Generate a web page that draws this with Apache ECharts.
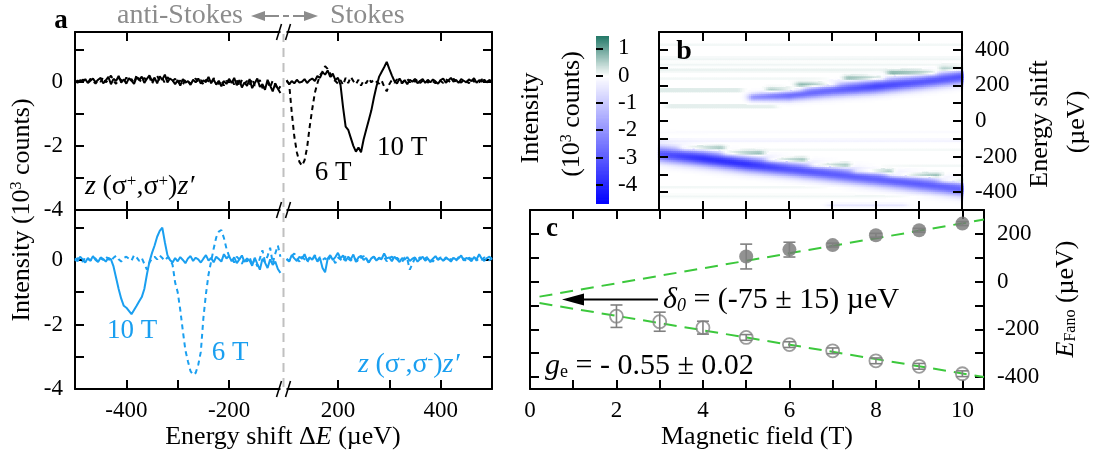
<!DOCTYPE html>
<html><head><meta charset="utf-8">
<script src="https://cdn.jsdelivr.net/npm/echarts@6/dist/echarts.min.js"></script>
<style>html,body{margin:0;padding:0;background:#fff}#c{width:1106px;height:459px}</style>
</head><body><div id="c"></div>
<script>
// ---------------- DATA ----------------
// Panel a: energy sampling (µeV), anti-Stokes side and Stokes side
const E_STEP = 5;
const energyLeft = []; for (let e = -500; e <= -100; e += E_STEP) energyLeft.push(e);
const energyRight = []; for (let e = 100; e <= 500; e += E_STEP) energyRight.push(e);
// intensities (10^3 counts)
// z(σ+,σ+)z'  10 T (solid black)
const sPlus10L = [0.02,-0.03,0.05,0.00,0.08,-0.04,0.03,0.10,-0.02,0.06, 0.12,-0.05,0.04,0.15,-0.08,0.09,0.02,0.18,-0.03,0.07, -0.06,0.11,0.03,-0.07,0.14,0.05,0.16,-0.04,0.09,0.20, 0.02,0.13,-0.05,0.17,0.06,0.22,-0.02,0.10,0.04,-0.08, 0.05,-0.12,0.08,-0.03,0.02,-0.10,0.06,-0.02,0.10,-0.06, 0.04,-0.01,0.15,-0.05,0.07,-0.09,0.03,-0.14,0.02,-0.07, 0.09,-0.04,0.12,-0.11,0.05,-0.18,-0.02,-0.13,0.08,-0.20, -0.05,0.10,-0.16,-0.08,-0.25,0.06,-0.12,-0.30,-0.05,-0.22,-0.35];
const sPlus10R = [0.05,-0.08,0.02,-0.05,0.06,-0.03,0.00,0.08,-0.04,0.05, 0.10,0.02,0.18,0.12,0.30,0.22,0.35,0.15,0.25,0.05, 0.12,-0.10,-0.80,-1.40,-1.50,-1.75,-2.00,-2.18,-2.05,-2.20, -1.80,-1.50,-1.20,-0.90,-0.50,-0.15,0.15,0.30,0.45,0.62, 0.40,0.20,0.02,-0.06,0.10,-0.03,0.05,-0.08,0.06,0.00, 0.09,-0.05,0.03,0.08,-0.04,0.06,-0.02,0.07,0.01,-0.06, 0.05,0.10,-0.03,0.04,0.12,0.00,0.06,-0.04,0.08,0.03, -0.02,0.07,0.02,0.11,-0.03,0.05,0.00,0.06,-0.02,0.04,0.01];
// z(σ+,σ+)z'  6 T (dashed black)
const sPlus6L = [-0.02,0.04,-0.05,0.07,0.01,-0.03,0.09,0.02,-0.06,0.05, 0.00,0.14,-0.02,0.06,0.19,0.03,-0.07,0.11,0.05,-0.02, 0.13,0.02,0.08,-0.04,0.21,0.07,-0.02,0.12,0.04,0.15, -0.06,0.10,0.18,0.03,0.11,-0.04,0.14,0.07,0.02,0.09, -0.05,0.04,-0.09,0.07,0.01,-0.06,0.03,0.10,-0.02,0.05, -0.08,0.06,0.02,-0.04,0.11,0.00,-0.07,0.05,-0.12,0.03, -0.02,0.07,-0.09,0.04,-0.15,0.06,-0.06,0.02,-0.10,0.09, -0.12,-0.03,0.05,-0.20,-0.09,-0.02,-0.18,0.04,-0.08,-0.26,-0.14];
const sPlus6R = [0.02,-0.06,-0.95,-1.70,-2.20,-2.50,-2.62,-2.45,-2.05,-1.40, -0.85,-0.35,-0.05,0.20,0.32,0.48,0.40,0.25,0.08,0.02, -0.06,0.05,-0.10,0.12,-0.04,0.15,0.02,-0.08,0.06,-0.12, 0.03,-0.05,0.10,-0.02,0.07,0.00,-0.06,0.04,-0.15,-0.30, -0.08,0.05,-0.03,0.07,0.01,-0.05,0.04,0.09,-0.02,0.06, 0.00,0.08,-0.04,0.03,0.07,-0.03,0.05,0.01,-0.05,0.06, 0.02,-0.04,0.07,0.03,-0.02,0.09,0.01,0.05,-0.03,0.06, 0.02,-0.05,0.08,0.00,0.04,-0.02,0.07,0.03,-0.01,0.05,0.02];
// z(σ-,σ-)z'  10 T (solid blue)
const sMinus10L = [0.05,-0.04,0.10,0.02,-0.08,0.06,-0.02,0.12,0.00,-0.06, 0.08,0.03,-0.05,0.07,0.02,-0.20,-0.55,-0.90,-1.20,-1.42, -1.48,-1.58,-1.68,-1.55,-1.42,-1.28,-1.15,-0.90,-0.45,-0.05, 0.22,0.45,0.72,0.90,1.00,0.55,0.15,0.00,-0.08,0.06, -0.04,0.09,0.00,-0.10,0.05,0.12,-0.03,0.07,0.02,-0.08, 0.04,0.15,-0.02,0.06,-0.07,0.10,0.03,-0.05,0.18,0.05, 0.12,-0.04,0.08,-0.10,0.02,0.14,-0.06,0.05,-0.02,-0.18, 0.07,-0.12,-0.30,0.04,-0.08,-0.25,0.02,-0.15,-0.05,-0.28,-0.40];
const sMinus10R = [0.02,-0.05,0.15,0.05,-0.03,0.10,0.04,0.18,-0.02,0.08, 0.01,0.12,-0.05,0.06,-0.25,-0.38,0.04,0.15,0.00,0.09, 0.22,0.05,0.14,-0.03,0.10,0.02,0.17,-0.06,0.08,0.13, 0.00,0.06,-0.08,0.05,0.11,-0.02,0.07,0.03,0.20,0.05, 0.08,-0.04,0.10,0.02,-0.06,0.06,0.01,0.09,-0.03,0.04, 0.08,-0.05,0.03,0.10,-0.02,0.05,-0.07,0.04,0.12,0.00, 0.06,-0.03,0.08,0.02,-0.05,0.07,0.01,0.05,0.14,-0.02, 0.06,0.03,-0.04,0.09,0.02,0.18,0.04,-0.03,0.06,0.10,0.03];
// z(σ-,σ-)z'  6 T (dashed blue)
const sMinus6L = [-0.03,0.06,0.01,-0.05,0.08,0.03,-0.02,0.09,0.04,-0.06, 0.05,0.00,0.11,0.03,-0.04,0.07,0.13,0.02,-0.05,0.06, 0.10,0.04,-0.02,0.15,0.08,-0.03,0.06,-0.12,-0.30,-0.08, 0.05,0.10,0.02,0.14,0.06,-0.02,0.08,0.03,-0.15,-0.70, -1.00,-1.55,-2.20,-2.80,-3.15,-3.45,-3.56,-3.50,-3.25,-2.85, -1.80,-1.05,-0.45,-0.05,0.35,0.70,0.88,0.93,0.68,0.35, 0.12,0.05,-0.08,0.10,0.02,-0.12,0.06,-0.05,0.09,-0.15, 0.03,-0.20,0.05,0.30,-0.06,0.12,0.38,-0.10,0.20,0.45,0.10];
const sMinus6R = [0.04,-0.03,0.12,0.20,0.06,-0.05,0.10,0.02,-0.08,0.07, 0.03,0.15,-0.02,0.09,0.00,0.06,-0.04,0.11,0.05,-0.10, 0.08,0.02,-0.06,0.13,0.04,-0.02,0.09,0.01,-0.05,0.07, 0.12,0.03,-0.08,0.05,0.10,-0.03,0.06,0.02,0.09,-0.04, 0.05,0.11,-0.02,0.07,0.00,-0.06,0.08,0.03,-0.30,-0.12, 0.06,0.01,0.09,-0.04,0.05,0.10,0.02,-0.05,0.07,0.03, 0.08,-0.02,0.04,0.11,0.00,0.06,-0.03,0.09,0.02,0.05, -0.04,0.07,0.03,0.10,-0.02,0.06,0.01,0.08,0.04,-0.01,0.05];
const energyTickLabels = [-400,-200,200,400];
const energyMinorTicks = [-400,-300,-200,200,300,400];

// Panel b: Fano dips vs field
const heatFields   = [3,4,5,6,7,8,9,10];
const lowerCentre  = [-182,-207,-239,-267,-295,-323,-351,-379];
const lowerDepth   = [3.1,3.8,3.8,3.2,3.0,2.9,3.0,2.9];
const lowerWidth   = [30,30,29,28,28,28,28,28];
const upperFields  = [5.2,6,7,8,9,10];
const upperCentre  = [137,146,175,197,221,250];
const upperDepth   = [2.0,2.7,2.8,3.4,3.1,3.2];
const upperWidth   = [15,20,25,27,27,27];
// positive (green) streaks: [B from, B to, energy, amplitude]
const greenStreaks = [[3.6,4.4,-148,0.8],[4.6,5.3,-178,0.9],[5.6,6.3,-216,0.95],[6.6,7.3,-246,0.9],[7.6,8.3,-280,1.0],[8.4,9.4,-302,0.95],[9.6,10.0,-332,0.9],
  [5.6,6.2,178,0.75],[6.3,7.0,207,0.9],[7.4,8.1,244,0.9],[8.4,9.3,272,1.0],[9.6,10.0,297,0.75]];
const faintRows = [[3.0,10.0,353,0.12],[3.0,10.0,287,0.15],[3.0,4.8,175,0.3],[3.3,5.6,85,0.25],[3.0,10.0,-107,-0.25],[3.0,10.0,-420,0.1],
  [3.0,10.0,-370,0.08],[3.0,10.0,320,0.1],[3.0,10.0,-60,-0.08],[3.0,10.0,-250,0.08],[3.0,10.0,240,0.08],[3.0,10.0,430,0.08],[7.0,8.6,-470,-0.45],[3.0,10.0,-160,0.07]];
const colorbarTicks = [-4,-3,-2,-1,0,1];

// Panel c: Fano energies
const fieldsUpper = [5,6,7,8,9,10];
const eFanoUpper  = [105,134,153,194,215,243];
const errUpper    = [52,31,8,8,8,8];
const fieldsLower = [2,3,4,5,6,7,8,9,10];
const eFanoLower  = [-145,-168,-193,-234,-264,-290,-332,-355,-386];
const errLower    = [47,40,27,12,12,12,12,12,12];
const fitB        = [0.22,10.5];
const fitUpperE   = [-63,260];
const fitLowerE   = [-90,-400];
const delta0      = -75;

// ---------------- HELPERS ----------------
const FONT = 'Liberation Serif';
const GAP = 94; // break mapping: -100 -> -6, +100 -> +6
const mapE = e => e < 0 ? e + GAP : e - GAP;
const unmapE = m => m < 0 ? Math.round(m - GAP) : Math.round(m + GAP);
const BLUE = '#1a9ff0';

function traceData(eL, vL, eR, vR) {
  const d = eL.map((e, i) => [mapE(e), vL[i]]);
  d.push([0, '-']);
  eR.forEach((e, i) => d.push([mapE(e), vR[i]]));
  return d;
}
function lerpAt(xs, ys, x) {
  if (x <= xs[0]) return ys[0];
  for (let i = 0; i < xs.length - 1; i++) if (x <= xs[i+1]) return ys[i] + (ys[i+1]-ys[i])*(x-xs[i])/(xs[i+1]-xs[i]);
  return ys[ys.length-1];
}
function segWin(b0, b1, B, soft) {
  if (B < b0) return Math.exp(-Math.pow((b0-B)/soft,2));
  if (B > b1) return Math.exp(-Math.pow((B-b1)/soft,2));
  return 1;
}
function fanoColor(v) {
  let r, g, b;
  if (v >= 0) { const t = Math.min(v/1.45,1); r = 255+(38-255)*t; g = 255+(122-255)*t; b = 255+(106-255)*t; }
  else { const t = Math.min(-v/4.7,1); r = 255*(1-t); g = 255*(1-t); b = 255; }
  return 'rgb(' + Math.round(r) + ',' + Math.round(g) + ',' + Math.round(b) + ')';
}
// heat map table built from the read band parameters
const HB = 0.05, HE = 10;
const heatData = [];
for (let k = 0; k <= 140; k++) {
  const B = 3 + k*HB;
  const cL = lerpAt(heatFields, lowerCentre, B), dL = lerpAt(heatFields, lowerDepth, B), wL = lerpAt(heatFields, lowerWidth, B);
  const cU = lerpAt(upperFields, upperCentre, B), dU = lerpAt(upperFields, upperDepth, B), wU = lerpAt(upperFields, upperWidth, B);
  const uw = segWin(upperFields[0], 11, B, 0.15);
  for (let j = 0; j <= 100; j++) {
    const E = -500 + j*HE;
    let v = -dL*Math.exp(-0.5*Math.pow((E-cL)/wL,2)) - uw*dU*Math.exp(-0.5*Math.pow((E-cU)/wU,2));
    greenStreaks.forEach(s => { v += s[3]*segWin(s[0], s[1], B, 0.15)*Math.exp(-0.5*Math.pow((E-s[2])/10,2)); });
    faintRows.forEach(s => { v += s[3]*segWin(s[0], s[1], B, 0.15)*Math.exp(-0.5*Math.pow((E-s[2])/6,2)); });
    if (Math.abs(v) > 0.02) heatData.push([B, E, v]);
  }
}
const cbData = []; for (let v = -4.7; v <= 1.45; v += 0.05) cbData.push([0.5, v, v]);

// ---------------- AXES ----------------
const lineS = {show:true, onZero:false, lineStyle:{color:'#000', width:2}};
const tk = (vals, len, inside) => ({show:true, inside: inside !== false, length: len || 9, customValues: vals, lineStyle:{color:'#000', width:2}});
const lb = (vals, fmt, margin) => vals ? {show:true, customValues: vals, formatter: fmt, margin: margin, color:'#000', fontFamily:FONT, fontSize:23} : {show:false};
function axis(grid, pos, min, max, ticks, labels, fmt, margin, extra) {
  return Object.assign({gridIndex:grid, type:'value', position:pos, min:min, max:max, axisLine:lineS, axisTick:ticks,
    axisLabel: lb(labels, fmt, margin), splitLine:{show:false}, minorTick:{show:false}}, extra || {});
}
const eMin = mapE(-500), eMax = mapE(500);
const xAxes = [
  axis(0,'bottom',eMin,eMax, tk(energyMinorTicks.map(mapE)), null),
  axis(0,'top',eMin,eMax, tk(energyTickLabels.map(mapE)), null),
  axis(1,'bottom',eMin,eMax, tk(energyMinorTicks.map(mapE)), energyTickLabels.map(mapE), v => String(unmapE(v)), 10),
  axis(1,'top',eMin,eMax, tk(energyTickLabels.map(mapE)), null),
  axis(2,'bottom',3,10, tk([4,5,6,7,8,9]), null),
  axis(2,'top',3,10, tk([4,5,6,7,8,9]), null),
  {gridIndex:3, type:'value', min:0, max:1, show:false},
  axis(4,'bottom',0,10.5, tk([1,2,3,4,5,6,7,8,9,10]), [0,2,4,6,8,10], v => String(v), 10),
  axis(4,'top',0,10.5, tk([1,2,3,4,5,6,7,8,9,10]), null)
];
const aTicks = [-3,-2,-1,0,1];
const yAxes = [
  axis(0,'left',-4,1.55, tk(aTicks), [-4,-2,0], v => String(v), 12),
  axis(0,'right',-4,1.55, tk(aTicks), null),
  axis(1,'left',-4,1.55, tk(aTicks), [-4,-2,0], v => String(v), 12),
  axis(1,'right',-4,1.55, tk(aTicks), null),
  axis(2,'left',-500,500, tk([-400,-300,-200,-100,0,100,200,300,400]), null),
  axis(2,'right',-500,500, tk([-400,-300,-200,-100,0,100,200,300,400]), [-400,-200,0,200,400], v => String(v), 13),
  axis(3,'right',-4.7,1.45, tk(colorbarTicks, 7, false), colorbarTicks, v => String(v), 9, {axisLine:{show:false}}),
  axis(4,'left',-450,300, tk([-400,-300,-200,-100,0,100,200]), null),
  axis(4,'right',-450,300, tk([-400,-300,-200,-100,0,100,200]), [-400,-200,0,200], v => String(v), 13)
];
const G = (l,t,w,h) => ({left:l, top:t, width:w, height:h, containLabel:false, outerBoundsMode:'none'});

// ---------------- SERIES ----------------
const lineSeries = (xi, yi, data, color, dashed) => ({type:'line', xAxisIndex:xi, yAxisIndex:yi, data:data, showSymbol:false, symbol:'none',
  connectNulls:false, lineStyle:{color:color, width:2, type: dashed ? [5,4] : 'solid'}, z:3, silent:true});
const errBar = (fields, vals, errs, z) => ({type:'custom', xAxisIndex:7, yAxisIndex:7, z:z, silent:true,
  data: fields.map((b,i) => [b, vals[i], errs[i]]),
  renderItem: (p, api) => {
    const b = api.value(0), y = api.value(1), e = api.value(2);
    const a = api.coord([b, y+e]), c = api.coord([b, y-e]);
    const st = {stroke:'#808080', lineWidth:1.6};
    return {type:'group', children:[
      {type:'line', shape:{x1:a[0], y1:a[1], x2:c[0], y2:c[1]}, style:st},
      {type:'line', shape:{x1:a[0]-6, y1:a[1], x2:a[0]+6, y2:a[1]}, style:st},
      {type:'line', shape:{x1:c[0]-6, y1:c[1], x2:c[0]+6, y2:c[1]}, style:st}]};
  }});

const series = [
  lineSeries(0,0, traceData(energyLeft, sPlus6L, energyRight, sPlus6R), '#000', true),
  lineSeries(0,0, traceData(energyLeft, sPlus10L, energyRight, sPlus10R), '#000', false),
  lineSeries(2,2, traceData(energyLeft, sMinus6L, energyRight, sMinus6R), BLUE, true),
  lineSeries(2,2, traceData(energyLeft, sMinus10L, energyRight, sMinus10R), BLUE, false),
  {type:'custom', xAxisIndex:4, yAxisIndex:4, z:-1, clip:true, silent:true, data:heatData, encode:{x:0, y:1},
    renderItem: (p, api) => {
      const pt = api.coord([api.value(0)-HB/2, api.value(1)+HE/2]); const s = api.size([HB, HE]);
      return {type:'rect', shape:{x:pt[0], y:pt[1], width:s[0]+0.7, height:s[1]+0.7}, style:{fill:fanoColor(api.value(2))}};
    }},
  {type:'custom', xAxisIndex:6, yAxisIndex:6, z:-1, clip:true, silent:true, data:cbData, encode:{x:0, y:1},
    renderItem: (p, api) => {
      const pt = api.coord([0, api.value(1)+0.03]); const s = api.size([1, 0.06]);
      return {type:'rect', shape:{x:pt[0], y:pt[1], width:s[0], height:s[1]+0.5}, style:{fill:fanoColor(api.value(2))}};
    }},
  {type:'line', xAxisIndex:7, yAxisIndex:7, data: fitB.map((b,i) => [b, fitUpperE[i]]), symbol:'none', lineStyle:{color:'#3cc83c', width:2, type:[13,8]}, z:2, silent:true},
  {type:'line', xAxisIndex:7, yAxisIndex:7, data: fitB.map((b,i) => [b, fitLowerE[i]]), symbol:'none', lineStyle:{color:'#3cc83c', width:2, type:[13,8]}, z:2, silent:true},
  {type:'scatter', xAxisIndex:7, yAxisIndex:7, data: fieldsUpper.map((b,i) => [b, eFanoUpper[i]]), symbol:'circle', symbolSize:14, itemStyle:{color:'#777'}, z:3, silent:true},
  {type:'scatter', xAxisIndex:7, yAxisIndex:7, data: fieldsLower.map((b,i) => [b, eFanoLower[i]]), symbol:'circle', symbolSize:13, itemStyle:{color:'rgba(255,255,255,0)', borderColor:'#858585', borderWidth:1.8}, z:3, silent:true},
  errBar(fieldsUpper, eFanoUpper, errUpper, 4),
  errBar(fieldsLower, eFanoLower, errLower, 4)
];

// ---------------- TEXT ----------------
const T = (x, y, text, o) => ({type:'text', x:x, y:y, rotation:(o && o.rot) || 0, z:10, silent:true,
  style: Object.assign({text:text, fill:'#000', fontFamily:FONT, fontSize:26, align:'center', verticalAlign:'middle'}, (o && o.style) || {})});
const rich = (fs, col) => ({
  n:{fontFamily:FONT, fontSize:fs, fill:col}, i:{fontFamily:FONT, fontSize:fs, fontStyle:'italic', fill:col},
  sup:{fontFamily:FONT, fontSize:Math.round(fs*0.6), fill:col, verticalAlign:'top'},
  sub:{fontFamily:FONT, fontSize:Math.round(fs*0.6), fill:col, verticalAlign:'bottom'},
  isub:{fontFamily:FONT, fontSize:Math.round(fs*0.6), fontStyle:'italic', fill:col, verticalAlign:'bottom'}});
const texts = [
  T(61, 21, 'a', {style:{fontWeight:'bold', fontSize:27}}),
  T(684, 52, 'b', {style:{fontWeight:'bold', fontSize:28}}),
  T(552, 229, 'c', {style:{fontWeight:'bold', fontSize:27}}),
  T(243, 16, 'anti-Stokes', {style:{fill:'#8c8c8c', fontSize:28, align:'right'}}),
  T(330, 16, 'Stokes', {style:{fill:'#8c8c8c', fontSize:28, align:'left'}}),
  T(402, 148, '10 T', {style:{fontSize:27}}),
  T(333, 173, '6 T', {style:{fontSize:27}}),
  T(132, 331, '10 T', {style:{fontSize:27, fill:BLUE}}),
  T(230, 353, '6 T', {style:{fontSize:27, fill:BLUE}}),
  T(85, 187, '{i|z} {n|(σ}{sup|+}{n|,σ}{sup|+}{n|)}{i|z′}', {style:{align:'left', rich:rich(28,'#000')}}),
  T(358, 365, '{i|z} {n|(σ}{sup|-}{n|,σ}{sup|-}{n|)}{i|z′}', {style:{align:'left', fill:BLUE, rich:rich(28,BLUE)}}),
  T(22, 210, '{n|Intensity (10}{sup|3}{n| counts)}', {rot:Math.PI/2, style:{rich:rich(26,'#000')}}),
  T(283, 437, '{n|Energy shift Δ}{i|E}{n| (µeV)}', {style:{rich:rich(26,'#000')}}),
  T(757, 437, 'Magnetic field (T)', {style:{fontSize:26}}),
  T(531, 118, 'Intensity', {rot:Math.PI/2, style:{fontSize:26}}),
  T(572, 114, '{n|(10}{sup|3}{n| counts)}', {rot:Math.PI/2, style:{rich:rich(26,'#000')}}),
  T(1040, 124, 'Energy shift', {rot:Math.PI/2, style:{fontSize:26}}),
  T(1077, 122, '(µeV)', {rot:Math.PI/2, style:{fontSize:26}}),
  T(1066, 299, '{i|E}{sub|Fano}{n| (µeV)}', {rot:Math.PI/2, style:{rich:rich(26,'#000')}}),
  T(663, 300, '{i|δ}{isub|0}{n| = (-75 ± 15) µeV}', {style:{align:'left', rich:rich(30,'#000')}}),
  T(545, 366, '{i|g}{sub|e}{n| = - 0.55 ± 0.02}', {style:{align:'left', rich:rich(30,'#000')}})
];

const chart = echarts.init(document.getElementById('c'), null, {renderer:'canvas'});
chart.setOption({
  animation:false, backgroundColor:'#fff',
  textStyle:{fontFamily:FONT},
  grid:[G(75,32,417,178), G(75,210,417,179), G(659,32,303,178), G(596,36,13,168), G(530,210,454,179)],
  xAxis:xAxes, yAxis:yAxes, series:series, graphic:texts
});

// decorations placed through the axes: axis break, arrow annotations
const xb = chart.convertToPixel({xAxisIndex:0}, 0);
const deco = [];
deco.push({type:'line', z:1, silent:true, shape:{x1:xb, y1:33, x2:xb, y2:389}, style:{stroke:'#c0c0c0', lineWidth:2, lineDash:[9,6]}});
[32, 210, 389].forEach(y => {
  deco.push({type:'rect', z:20, silent:true, shape:{x:xb-3, y:y-2, width:6, height:4}, style:{fill:'#fff'}});
  deco.push({type:'line', z:21, silent:true, shape:{x1:xb-7, y1:y+8, x2:xb-2, y2:y-8}, style:{stroke:'#000', lineWidth:1.6}});
  deco.push({type:'line', z:21, silent:true, shape:{x1:xb+2, y1:y+8, x2:xb+7, y2:y-8}, style:{stroke:'#000', lineWidth:1.6}});
});
// anti-Stokes / Stokes arrows
const gcol = '#8c8c8c';
deco.push({type:'line', z:10, silent:true, shape:{x1:262, y1:16, x2:279, y2:16}, style:{stroke:gcol, lineWidth:2}});
deco.push({type:'line', z:10, silent:true, shape:{x1:283, y1:16, x2:289, y2:16}, style:{stroke:gcol, lineWidth:2}});
deco.push({type:'line', z:10, silent:true, shape:{x1:293, y1:16, x2:308, y2:16}, style:{stroke:gcol, lineWidth:2}});
deco.push({type:'polygon', z:10, silent:true, shape:{points:[[251,16],[265,11],[265,21]]}, style:{fill:gcol}});
deco.push({type:'polygon', z:10, silent:true, shape:{points:[[318,16],[304,11],[304,21]]}, style:{fill:gcol}});
// delta0 arrow in panel c
const pTail = chart.convertToPixel({xAxisIndex:7, yAxisIndex:7}, [2.96, delta0]);
const pTip = chart.convertToPixel({xAxisIndex:7, yAxisIndex:7}, [0.74, delta0]);
deco.push({type:'line', z:10, silent:true, shape:{x1:pTail[0], y1:pTail[1], x2:pTip[0]+18, y2:pTip[1]}, style:{stroke:'#000', lineWidth:2}});
deco.push({type:'polygon', z:10, silent:true, shape:{points:[[pTip[0], pTip[1]], [pTip[0]+22, pTip[1]-6], [pTip[0]+22, pTip[1]+6]]}, style:{fill:'#000'}});
chart.setOption({graphic: texts.concat(deco)});
</script></body></html>
